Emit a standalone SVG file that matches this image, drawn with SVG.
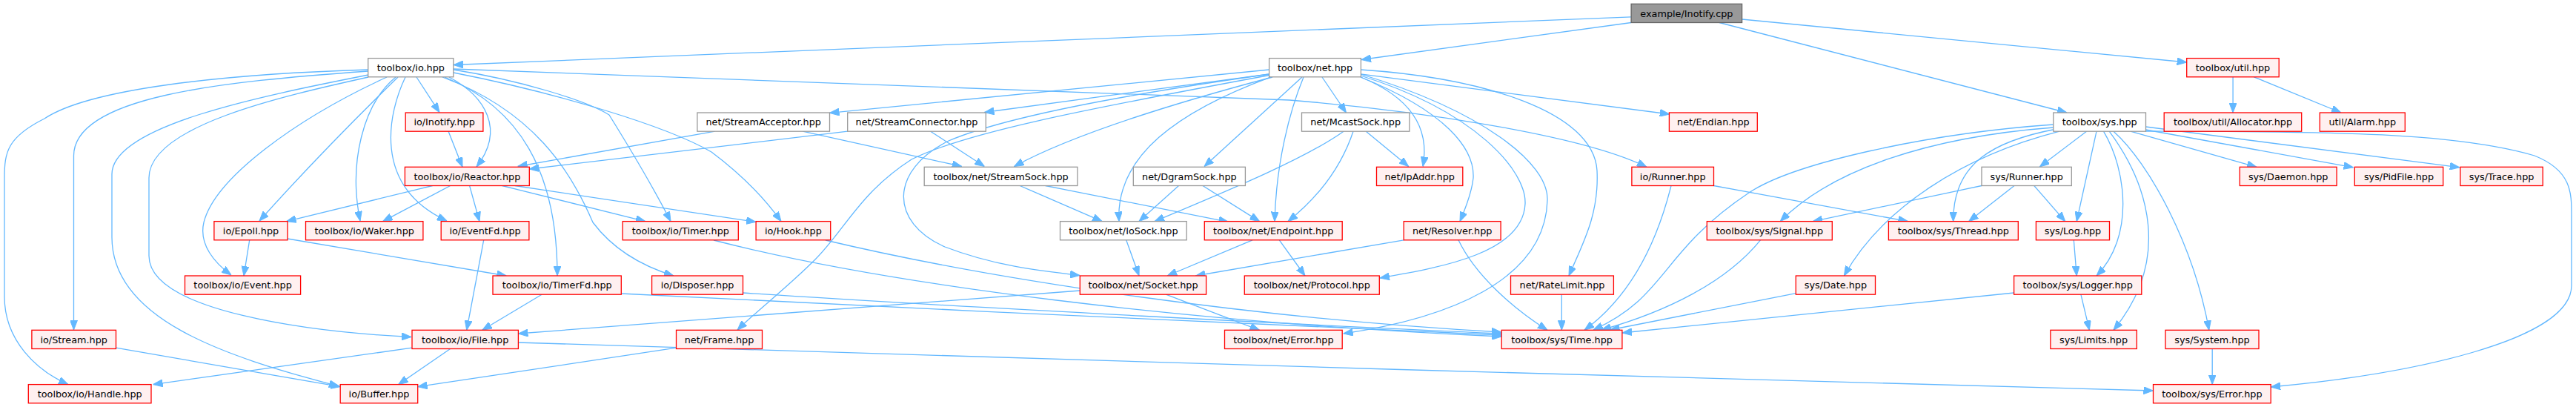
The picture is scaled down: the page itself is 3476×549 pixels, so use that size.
<svg xmlns="http://www.w3.org/2000/svg" width="3476" height="549" viewBox="0 0 3476 549">
<style>
.nd rect{stroke-width:1.3}
.g rect{fill:#ffffff;stroke:#999999}
.r rect{fill:#fff0f0;stroke:#ff0000}
.root rect{fill:#999999;stroke:#666666}
text{font-family:"DejaVu Sans","Liberation Sans",sans-serif;font-size:12.8px;text-anchor:middle;fill:#000}
#edges path{fill:none;stroke:#63b8ff;stroke-width:1.3;marker-end:url(#ah)}
</style>
<defs>
<marker id="ah" markerUnits="userSpaceOnUse" viewBox="0 0 13 10" markerWidth="13" markerHeight="10" refX="13" refY="5" orient="auto">
<path d="M0,0 L13,5 L0,10 z" fill="#63b8ff" stroke="#63b8ff" stroke-width="1"/>
</marker>
</defs>
<rect width="3476" height="549" fill="#ffffff"/>
<g id="edges">
<path d="M2201,22.8 L612,87.5"/>
<path d="M2201,30.5 L1837,80.5"/>
<path d="M2320,30.5 L2789,152"/>
<path d="M2350.6,26 L2950.7,84"/>
<path d="M562,104 L593,151.6"/>
<path d="M606,104 C655,130 682,175 643,225"/>
<path d="M537,104 C500,140 420,220 350,298"/>
<path d="M534,104 C490,140 470,220 486,298"/>
<path d="M547,104 C525,150 500,250 603,298"/>
<path d="M522,104 C400,160 290,240 275,300 C268,330 290,355 312,371"/>
<path d="M497,104 C380,130 201,170 201,240 L201,345 C201,420 420,448 555,454.5"/>
<path d="M497,96 C300,110 99.5,130 99.5,210 L99.5,445"/>
<path d="M497,94 C300,100 120,120 60,160 C10,185 6,205 6,240 L6,400 C6,460 50,500 92,518.6"/>
<path d="M497,101 C350,130 151,170 151,235 L151,320 C151,430 300,480 457,521"/>
<path d="M600,104 C700,145 752,230 752,372"/>
<path d="M597,104 C720,150 770,230 800,300 C830,340 870,360 909,372"/>
<path d="M612,94 C700,108 790,135 822,155 C850,200 880,250 905,298.6"/>
<path d="M612,98 C750,125 900,170 960,205 C1000,235 1030,265 1054,298.6"/>
<path d="M612,93 L1740,135 C1900,148 2130,180 2222,225.3"/>
<path d="M605,177 L624,225.3"/>
<path d="M583.6,250.5 L386.5,298.6"/>
<path d="M607.6,250.5 L516.6,298.6"/>
<path d="M633.6,250.5 L647,298.6"/>
<path d="M677.6,250.5 L870.8,298.6"/>
<path d="M694.8,250.5 L1020,299.4"/>
<path d="M336.7,323.8 L329,372"/>
<path d="M388,322 L683.3,372"/>
<path d="M652.7,323.8 L629.7,445.3"/>
<path d="M731.1,397.2 L650.8,445.3"/>
<path d="M838,396 C1200,415 1800,442 2026,452"/>
<path d="M1002,395 C1300,415 1800,440 2026,450"/>
<path d="M963,324 C1200,385 1600,435 2026,454"/>
<path d="M1114,324 C1350,380 1700,430 2026,448"/>
<path d="M556,469.2 L206.6,518.6"/>
<path d="M607.6,470.5 L537.6,518.6"/>
<path d="M699,462 C1200,480 2300,510 2905.5,527"/>
<path d="M156.5,469.2 L459.2,521.7"/>
<path d="M912.5,469.2 L563.7,521.7"/>
<path d="M964.6,177.2 L698.6,224.5"/>
<path d="M1083.2,177.2 L1297.8,224.5"/>
<path d="M1143.7,177.2 L714.3,228"/>
<path d="M1255.7,177.2 L1328.4,224.5"/>
<path d="M1712.6,94 C1500,115 1300,135 1119.5,152.3"/>
<path d="M1712.6,100 C1600,115 1450,135 1328.4,151.5"/>
<path d="M1717,104 C1600,135 1450,180 1368.5,224.5"/>
<path d="M1757,104 L1625,224.5"/>
<path d="M1715,103.8 C1590,150 1505,210 1510,298.6"/>
<path d="M1759,104 C1740,150 1722,220 1720,298.6"/>
<path d="M1784,104 L1816.5,152"/>
<path d="M1836,104 C1900,130 1930,170 1920,224.5"/>
<path d="M1836,104 C1950,150 1990,200 1988,240 C1986,260 1978,280 1970,298.6"/>
<path d="M1836,102 C1990,150 2060,230 2058,275 C2055,340 1950,360 1862,375"/>
<path d="M1836,100 C2000,150 2090,220 2088,270 C2085,380 1950,430 1812.7,450"/>
<path d="M1836,94 C2000,105 2150,150 2155,230 C2158,290 2135,330 2117,372"/>
<path d="M1836,99.8 L2252.8,154"/>
<path d="M1712.6,100 C1500,130 1350,160 1280,190 C1200,230 1200,300 1275,333 C1340,358 1400,365 1457,371.5"/>
<path d="M1712.6,101.5 C1450,150 1300,180 1230,215 C1160,260 1140,310 1100,350 C1060,390 1020,420 995,445.3"/>
<path d="M1376.2,250.5 L1487.2,298.6"/>
<path d="M1410.6,250.5 L1657.5,299.4"/>
<path d="M1590.5,250.5 L1537,298.6"/>
<path d="M1623,250.5 L1699.5,298.6"/>
<path d="M1813,177.2 C1760,215 1650,260 1558,298.6"/>
<path d="M1826,177.2 C1810,225 1780,265 1738,298.6"/>
<path d="M1843.3,177.2 L1900.7,224.5"/>
<path d="M1519.7,323.8 L1537,372"/>
<path d="M1690,323.8 L1575.2,372"/>
<path d="M1726.3,323.8 L1761,372"/>
<path d="M1894.2,323.8 L1613.4,372"/>
<path d="M1968,323.8 C1990,370 2040,415 2088,445.3"/>
<path d="M2107.3,397.2 L2107.3,445.3"/>
<path d="M1573.3,397.2 L1699.5,445.3"/>
<path d="M1457.3,392 L699.4,450"/>
<path d="M2255,250.5 C2235,330 2200,400 2138,445.3"/>
<path d="M2312.5,250.5 L2574.5,298.6"/>
<path d="M2375.5,323.8 C2330,380 2250,420 2161,445"/>
<path d="M2423.3,395.7 L2172.4,445"/>
<path d="M2717.6,395 L2189,449"/>
<path d="M2770.8,168 C2600,180 2420,220 2360,260 C2240,340 2250,400 2150,445"/>
<path d="M2770.8,172 C2600,185 2470,230 2402.3,298.6"/>
<path d="M2779,177.2 C2650,210 2540,280 2488.4,372"/>
<path d="M2775,174 C2690,190 2635,220 2635.7,298.6"/>
<path d="M2815.5,177.2 L2752.4,225"/>
<path d="M2829,177.2 L2802.2,298.6"/>
<path d="M2838.5,177.2 C2870,230 2880,320 2829,372"/>
<path d="M2846.2,177.2 C2900,250 2930,350 2851.9,445.3"/>
<path d="M2852,177.2 C2900,220 2960,330 2980.8,445.3"/>
<path d="M2874.9,177.2 L3045,225.3"/>
<path d="M2895.5,175 L3175.5,225.8"/>
<path d="M2895.5,171 L3318.8,225.8"/>
<path d="M2895.5,177 C3100,178 3300,175 3420,210 C3470,230 3470,260 3470,290 L3470,385 C3470,460 3250,505 3064.2,522"/>
<path d="M2674,250.5 L2446.3,298.6"/>
<path d="M2718,250.5 L2656.7,298.6"/>
<path d="M2744.8,250.5 L2786.8,298.6"/>
<path d="M2798.3,323.8 L2802.2,372"/>
<path d="M2807.9,397.2 L2819.4,445.3"/>
<path d="M2985.2,470.5 L2985.2,518.6"/>
<path d="M3013.1,103.8 L3013.1,152"/>
<path d="M3041.4,103.8 L3159,152"/>
</g>
<g id="n0" class="nd root"><rect x="2201.1" y="5.3" width="149.5" height="25.2"/><text x="2275.9" y="22.5">example/Inotify.cpp</text></g>
<g id="n1" class="nd g"><rect x="496.7" y="78.6" width="115.1" height="25.2"/><text x="554.3" y="95.8">toolbox/io.hpp</text></g>
<g id="n2" class="nd g"><rect x="1712.6" y="78.6" width="123.8" height="25.2"/><text x="1774.5" y="95.8">toolbox/net.hpp</text></g>
<g id="n3" class="nd g"><rect x="2770.8" y="152" width="124.7" height="25.2"/><text x="2833.2" y="169.2">toolbox/sys.hpp</text></g>
<g id="n4" class="nd r"><rect x="2950.7" y="78.6" width="124.5" height="25.2"/><text x="3013" y="95.8">toolbox/util.hpp</text></g>
<g id="n5" class="nd r"><rect x="547.2" y="152" width="104.7" height="25.2"/><text x="599.6" y="169.2">io/Inotify.hpp</text></g>
<g id="n6" class="nd r"><rect x="546.4" y="225.3" width="167.9" height="25.2"/><text x="630.4" y="242.5">toolbox/io/Reactor.hpp</text></g>
<g id="n7" class="nd r"><rect x="288.9" y="298.6" width="99.1" height="25.2"/><text x="338.5" y="315.8">io/Epoll.hpp</text></g>
<g id="n8" class="nd r"><rect x="412.5" y="298.6" width="158.4" height="25.2"/><text x="491.7" y="315.8">toolbox/io/Waker.hpp</text></g>
<g id="n9" class="nd r"><rect x="595.2" y="298.6" width="118.7" height="25.2"/><text x="654.6" y="315.8">io/EventFd.hpp</text></g>
<g id="n10" class="nd r"><rect x="840.2" y="298.6" width="156.1" height="25.2"/><text x="918.3" y="315.8">toolbox/io/Timer.hpp</text></g>
<g id="n11" class="nd r"><rect x="1020.1" y="298.6" width="100.6" height="25.2"/><text x="1070.4" y="315.8">io/Hook.hpp</text></g>
<g id="n12" class="nd r"><rect x="249.5" y="372" width="156.1" height="25.2"/><text x="327.6" y="389.2">toolbox/io/Event.hpp</text></g>
<g id="n13" class="nd r"><rect x="665" y="372" width="173.3" height="25.2"/><text x="751.7" y="389.2">toolbox/io/TimerFd.hpp</text></g>
<g id="n14" class="nd r"><rect x="879.6" y="372" width="122.9" height="25.2"/><text x="941.1" y="389.2">io/Disposer.hpp</text></g>
<g id="n15" class="nd r"><rect x="42.9" y="445.3" width="113.6" height="25.2"/><text x="99.7" y="462.5">io/Stream.hpp</text></g>
<g id="n16" class="nd r"><rect x="556" y="445.3" width="143.4" height="25.2"/><text x="627.7" y="462.5">toolbox/io/File.hpp</text></g>
<g id="n17" class="nd r"><rect x="912.5" y="445.3" width="116" height="25.2"/><text x="970.5" y="462.5">net/Frame.hpp</text></g>
<g id="n18" class="nd r"><rect x="38.3" y="518.6" width="165.7" height="25.2"/><text x="121.2" y="535.8">toolbox/io/Handle.hpp</text></g>
<g id="n19" class="nd r"><rect x="459.2" y="518.6" width="104.5" height="25.2"/><text x="511.5" y="535.8">io/Buffer.hpp</text></g>
<g id="n20" class="nd g"><rect x="940.9" y="152" width="178.6" height="25.2"/><text x="1030.2" y="169.2">net/StreamAcceptor.hpp</text></g>
<g id="n21" class="nd g"><rect x="1143.7" y="152" width="186.6" height="25.2"/><text x="1237" y="169.2">net/StreamConnector.hpp</text></g>
<g id="n22" class="nd g"><rect x="1247.2" y="225.3" width="206.7" height="25.2"/><text x="1350.6" y="242.5">toolbox/net/StreamSock.hpp</text></g>
<g id="n23" class="nd g"><rect x="1529.3" y="225.3" width="151.1" height="25.2"/><text x="1604.9" y="242.5">net/DgramSock.hpp</text></g>
<g id="n24" class="nd g"><rect x="1430.5" y="298.6" width="170.7" height="25.2"/><text x="1515.9" y="315.8">toolbox/net/IoSock.hpp</text></g>
<g id="n25" class="nd r"><rect x="1625.3" y="298.6" width="185.9" height="25.2"/><text x="1718.3" y="315.8">toolbox/net/Endpoint.hpp</text></g>
<g id="n26" class="nd r"><rect x="1457.3" y="372" width="170.3" height="25.2"/><text x="1542.5" y="389.2">toolbox/net/Socket.hpp</text></g>
<g id="n27" class="nd r"><rect x="1679.3" y="372" width="182" height="25.2"/><text x="1770.3" y="389.2">toolbox/net/Protocol.hpp</text></g>
<g id="n28" class="nd r"><rect x="1652.5" y="445.3" width="158.7" height="25.2"/><text x="1731.9" y="462.5">toolbox/net/Error.hpp</text></g>
<g id="n29" class="nd g"><rect x="1756.5" y="152" width="145.4" height="25.2"/><text x="1829.2" y="169.2">net/McastSock.hpp</text></g>
<g id="n30" class="nd r"><rect x="2252.4" y="152" width="118.9" height="25.2"/><text x="2311.9" y="169.2">net/Endian.hpp</text></g>
<g id="n31" class="nd r"><rect x="1857.5" y="225.3" width="116.3" height="25.2"/><text x="1915.7" y="242.5">net/IpAddr.hpp</text></g>
<g id="n32" class="nd r"><rect x="2201.9" y="225.3" width="110.6" height="25.2"/><text x="2257.2" y="242.5">io/Runner.hpp</text></g>
<g id="n33" class="nd r"><rect x="1894.2" y="298.6" width="130.9" height="25.2"/><text x="1959.7" y="315.8">net/Resolver.hpp</text></g>
<g id="n34" class="nd r"><rect x="2303.3" y="298.6" width="169" height="25.2"/><text x="2387.8" y="315.8">toolbox/sys/Signal.hpp</text></g>
<g id="n35" class="nd r"><rect x="2038.5" y="372" width="138.9" height="25.2"/><text x="2108" y="389.2">net/RateLimit.hpp</text></g>
<g id="n36" class="nd r"><rect x="2026.2" y="445.3" width="162.7" height="25.2"/><text x="2107.6" y="462.5">toolbox/sys/Time.hpp</text></g>
<g id="n37" class="nd g"><rect x="2674" y="225.3" width="121.3" height="25.2"/><text x="2734.7" y="242.5">sys/Runner.hpp</text></g>
<g id="n38" class="nd r"><rect x="2548.4" y="298.6" width="174.9" height="25.2"/><text x="2635.9" y="315.8">toolbox/sys/Thread.hpp</text></g>
<g id="n39" class="nd r"><rect x="2747.4" y="298.6" width="99.1" height="25.2"/><text x="2797" y="315.8">sys/Log.hpp</text></g>
<g id="n40" class="nd r"><rect x="2423.3" y="372" width="107.2" height="25.2"/><text x="2476.9" y="389.2">sys/Date.hpp</text></g>
<g id="n41" class="nd r"><rect x="2717.6" y="372" width="172.2" height="25.2"/><text x="2803.7" y="389.2">toolbox/sys/Logger.hpp</text></g>
<g id="n42" class="nd r"><rect x="2766.9" y="445.3" width="116.4" height="25.2"/><text x="2825.1" y="462.5">sys/Limits.hpp</text></g>
<g id="n43" class="nd r"><rect x="2905.5" y="518.6" width="158.7" height="25.2"/><text x="2984.9" y="535.8">toolbox/sys/Error.hpp</text></g>
<g id="n44" class="nd r"><rect x="2920.2" y="152" width="185.5" height="25.2"/><text x="3013" y="169.2">toolbox/util/Allocator.hpp</text></g>
<g id="n45" class="nd r"><rect x="3130.3" y="152" width="115" height="25.2"/><text x="3187.8" y="169.2">util/Alarm.hpp</text></g>
<g id="n46" class="nd r"><rect x="3022.3" y="225.3" width="130.8" height="25.2"/><text x="3087.7" y="242.5">sys/Daemon.hpp</text></g>
<g id="n47" class="nd r"><rect x="3177.3" y="225.3" width="119.4" height="25.2"/><text x="3237" y="242.5">sys/PidFile.hpp</text></g>
<g id="n48" class="nd r"><rect x="3319.9" y="225.3" width="111.3" height="25.2"/><text x="3375.6" y="242.5">sys/Trace.hpp</text></g>
<g id="n49" class="nd r"><rect x="2922" y="445.3" width="126" height="25.2"/><text x="2985" y="462.5">sys/System.hpp</text></g>
</svg>
